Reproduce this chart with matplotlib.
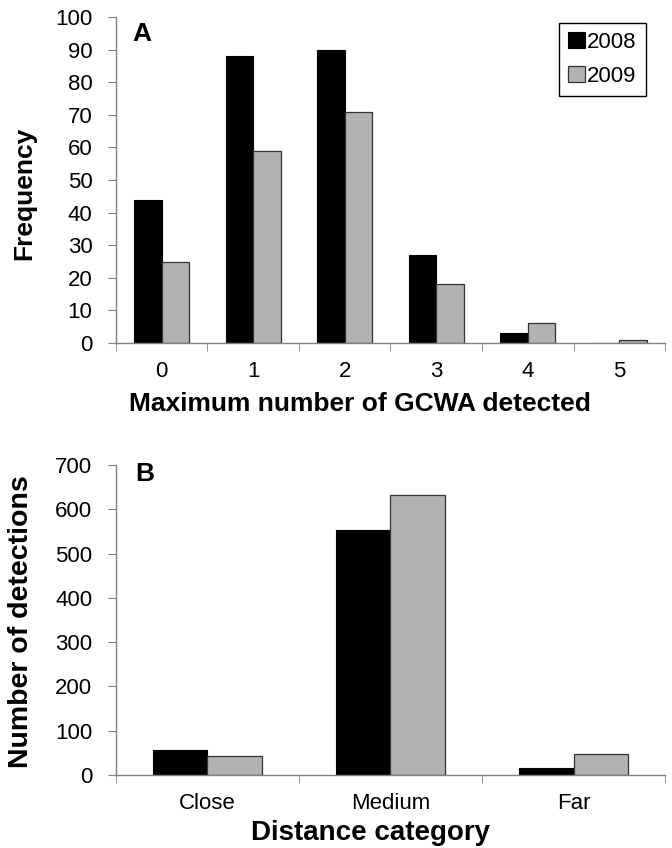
import matplotlib
matplotlib.use("Agg")
import matplotlib.pyplot as plt
import numpy as np

plt.rcParams['font.family'] = ['Liberation Sans', 'DejaVu Sans']

# panel A data
gcwa_cats = ['0', '1', '2', '3', '4', '5']
freq_2008 = [44, 88, 90, 27, 3, 0]
freq_2009 = [25, 59, 71, 18, 6, 1]

# panel B data
dist_cats = ['Close', 'Medium', 'Far']
det_2008 = [57, 553, 15]
det_2009 = [43, 632, 48]

BLACK = '#000000'
GREY = '#b2b2b2'
SPINE = '#808080'


def style_axes(ax, n):
    for s in ('top', 'right'):
        ax.spines[s].set_visible(False)
    for s in ('left', 'bottom'):
        ax.spines[s].set_color(SPINE)
        ax.spines[s].set_linewidth(1.0)
    ax.set_xlim(-0.5, n - 0.5)
    ax.set_xticks(np.arange(n))
    ax.set_xticks(np.arange(n + 1) - 0.5, minor=True)
    ax.tick_params(axis='x', which='major', length=0, labelsize=16, pad=13)
    ax.tick_params(axis='x', which='minor', length=6, color=SPINE, direction='out')
    ax.tick_params(axis='y', length=6, color=SPINE, direction='out', labelsize=16, pad=11)


def grouped(ax, cats, a, b, w):
    x = np.arange(len(cats))
    ax.bar(x - w / 2, a, w, color=BLACK, edgecolor='black', linewidth=0.8, label='2008')
    ax.bar(x + w / 2, b, w, color=GREY, edgecolor='#333333', linewidth=0.9, label='2009')
    ax.set_xticklabels(cats)


fig = plt.figure(figsize=(6.72, 8.48), dpi=100)

# ---- A ----
axA = fig.add_axes([0.1726, 0.5955, 0.817, 0.3844])
grouped(axA, gcwa_cats, freq_2008, freq_2009, 0.3)
style_axes(axA, len(gcwa_cats))
axA.set_ylim(0, 100)
axA.set_yticks(np.arange(0, 101, 10))
axA.set_ylabel('Frequency', fontsize=19, fontweight='bold')
axA.yaxis.set_label_coords(-0.146, 0.46)
axA.set_xlabel('Maximum number of GCWA detected', fontsize=19, fontweight='bold')
axA.xaxis.set_label_coords(0.444, -0.150)
axA.text(0.03, 0.985, 'A', transform=axA.transAxes, fontsize=19, fontweight='bold', va='top')
leg = axA.legend(loc='upper right', bbox_to_anchor=(0.965, 0.982), borderaxespad=0,
                 fontsize=16, handlelength=0.75, handleheight=0.75, handletextpad=0.1,
                 borderpad=0.41, labelspacing=0.57, fancybox=False, framealpha=1)
leg.get_frame().set_edgecolor('black')
leg.get_frame().set_linewidth(1.0)

# ---- B ----
axB = fig.add_axes([0.1726, 0.0861, 0.817, 0.3656])
grouped(axB, dist_cats, det_2008, det_2009, 0.3)
style_axes(axB, len(dist_cats))
axB.set_ylim(0, 700)
axB.set_yticks(np.arange(0, 701, 100))
axB.set_ylabel('Number of detections', fontsize=20.5, fontweight='bold')
axB.yaxis.set_label_coords(-0.149, 0.494)
axB.set_xlabel('Distance category', fontsize=20, fontweight='bold')
axB.xaxis.set_label_coords(0.464, -0.145)
axB.text(0.035, 1.01, 'B', transform=axB.transAxes, fontsize=19, fontweight='bold', va='top')

fig.savefig('out.png', dpi=100)
